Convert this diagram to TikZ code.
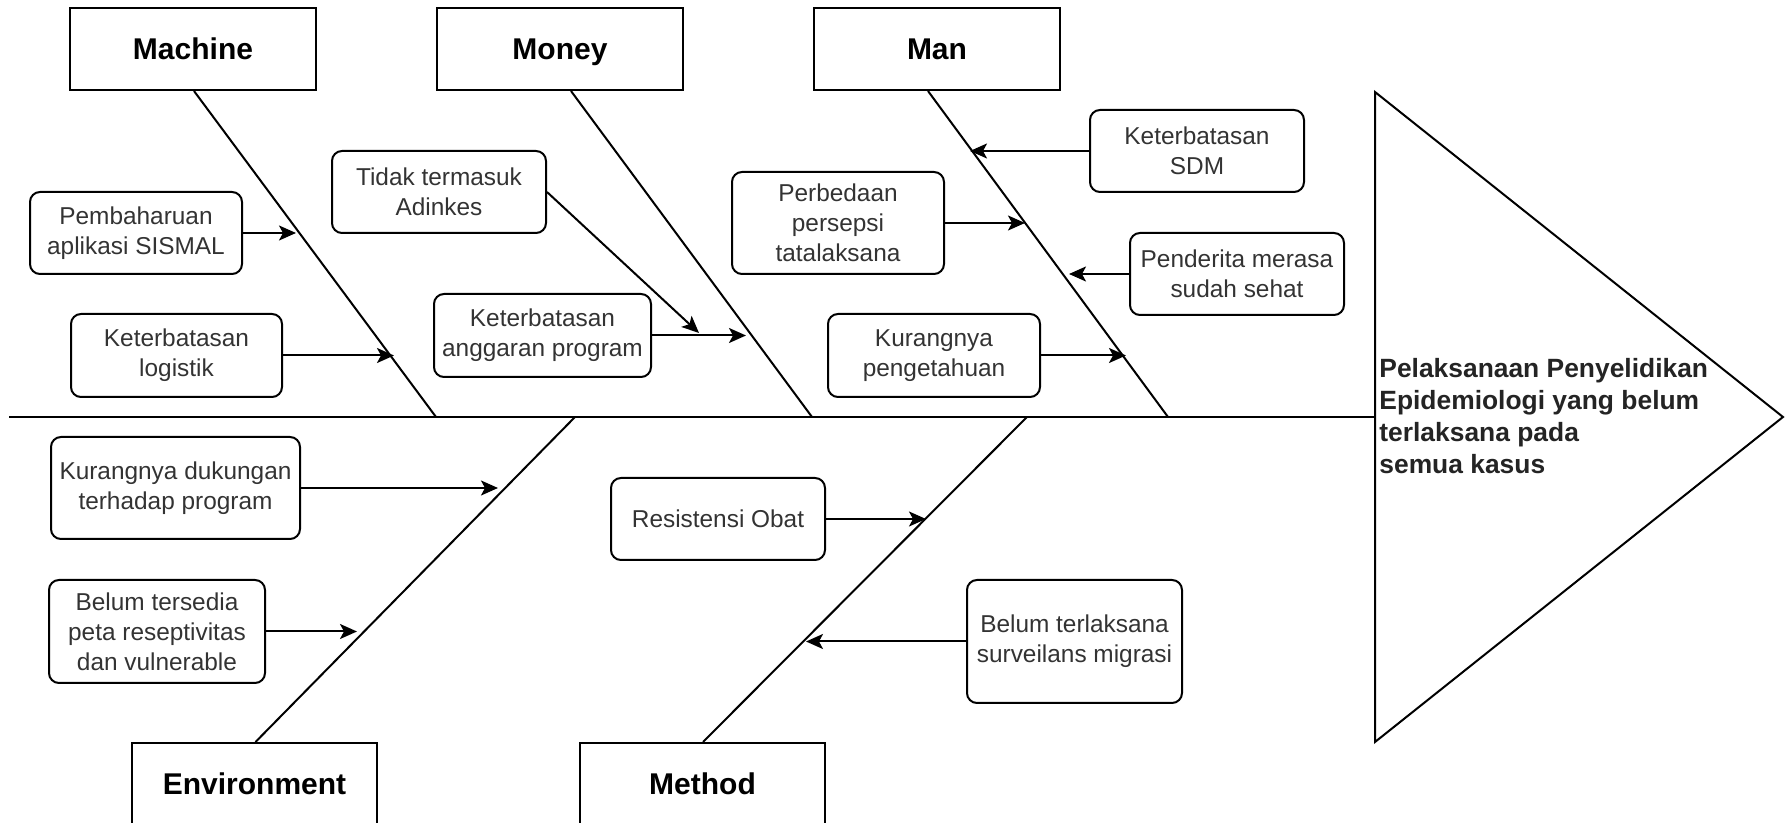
\documentclass[tikz,border=0pt]{standalone}
\usepackage{fontspec}
\setmainfont{Liberation Sans}
\usetikzlibrary{arrows.meta}
\definecolor{txtgray}{HTML}{333333}
\begin{document}
\begin{tikzpicture}[x=0.5pt,y=-0.5pt,
  cause/.style={draw, line width=1pt, rounded corners=5pt, align=center, inner sep=0pt,
    text=txtgray, font=\fontsize{12.2}{15}\selectfont},
  cat/.style={draw, line width=1pt, inner sep=0pt, minimum height=41pt,
    text height=10.8pt, text depth=0pt,
    font=\fontsize{15}{18}\bfseries\selectfont},
  bone/.style={line width=1pt},
  arr/.style={line width=1pt, -{Stealth[length=8.5pt,width=7.5pt,inset=2pt]}}
]
\path[use as bounding box, clip] (0,0) rectangle (1785,823);

% category boxes
\node[cat, minimum width=123pt] (machine) at (193,49) {Machine};
\node[cat, minimum width=123pt] (money) at (560,49) {Money};
\node[cat, minimum width=123pt] (man) at (937,49) {Man};
\node[cat, minimum width=122.5pt] (env) at (254.5,784) {Environment};
\node[cat, minimum width=122.5pt] (method) at (702.5,784) {Method};

% head (effect)
\draw[line width=1pt] (1375,92) -- (1783,417) -- (1375,742) -- cycle;
\coordinate (head) at (1375,417);
\coordinate (tail) at (9,417);
\node[anchor=north west, inner sep=0pt, align=left, text=txtgray!70!black,
  font=\fontsize{13.2}{16}\bfseries\selectfont] (effect) at (1379,358)
  {Pelaksanaan Penyelidikan\\Epidemiologi yang belum\\terlaksana pada\\semua kasus};

% spine
\draw[bone] (tail) -- (head);

% bone joints on spine
\coordinate (jmachine) at (436,417);
\coordinate (jmoney) at (812,417);
\coordinate (jman) at (1168,417);
\coordinate (jenv) at (575,417);
\coordinate (jmethod) at (1027,417);

\draw[bone] ([xshift=0.5pt]machine.south) -- (jmachine);
\draw[bone] ([xshift=5.5pt]money.south) -- (jmoney);
\draw[bone] ([xshift=-4.5pt]man.south) -- (jman);
\draw[bone] ([xshift=0.5pt]env.north) -- (jenv);
\draw[bone] ([xshift=0.25pt]method.north) -- (jmethod);

% causes
\node[cause, minimum width=106pt, minimum height=41pt] (p1) at (136,233) {Pembaharuan\\aplikasi SISMAL};
\node[cause, minimum width=105.5pt, minimum height=41.5pt] (p2) at (176.5,355.5) {Keterbatasan\\logistik};
\node[cause, minimum width=107pt, minimum height=41pt] (p3) at (439,192) {Tidak termasuk\\Adinkes};
\node[cause, minimum width=108.5pt, minimum height=41.5pt] (p4) at (542.5,335.5) {Keterbatasan\\anggaran program};
\node[cause, minimum width=106pt, minimum height=51pt] (p5) at (838,223) {Perbedaan\\persepsi\\tatalaksana};
\node[cause, minimum width=107pt, minimum height=41pt] (p6) at (1197,151) {Keterbatasan\\SDM};
\node[cause, minimum width=107pt, minimum height=41pt] (p7) at (1237,274) {Penderita merasa\\sudah sehat};
\node[cause, minimum width=106pt, minimum height=41.5pt] (p8) at (934,355.5) {Kurangnya\\pengetahuan};
\node[cause, minimum width=124.5pt, minimum height=51pt] (p9) at (175.5,488) {Kurangnya dukungan\\terhadap program};
\node[cause, minimum width=108pt, minimum height=51.5pt] (p10) at (157,631.5) {Belum tersedia\\peta reseptivitas\\dan vulnerable};
\node[cause, minimum width=107pt, minimum height=41pt] (p11) at (718,519) {Resistensi Obat};
\node[cause, minimum width=107.5pt, minimum height=61.5pt] (p12) at (1074.5,641.5) {Belum terlaksana\\surveilans migrasi};

% arrow targets
\coordinate (t1) at (296,233);
\coordinate (t2) at (394,355.5);
\coordinate (t3) at (699,333);
\coordinate (t4) at (746,335.5);
\coordinate (t5) at (1025,223);
\coordinate (t6) at (970,151);
\coordinate (t7) at (1069,274);
\coordinate (t8) at (1126,355.5);
\coordinate (t9) at (498,488);
\coordinate (t10) at (357,631.5);
\coordinate (t11) at (926,519);
\coordinate (t12) at (806,641.5);

\draw[arr] (p1.east) -- (t1);
\draw[arr] (p2.east) -- (t2);
\draw[arr] (p3.east) -- (t3);
\draw[arr] (p4.east) -- (t4);
\draw[arr] (p5.east) -- (t5);
\draw[arr] (p6.west) -- (t6);
\draw[arr] (p7.west) -- (t7);
\draw[arr] (p8.east) -- (t8);
\draw[arr] (p9.east) -- (t9);
\draw[arr] (p10.east) -- (t10);
\draw[arr] (p11.east) -- (t11);
\draw[arr] (p12.west) -- (t12);
\end{tikzpicture}
\end{document}
